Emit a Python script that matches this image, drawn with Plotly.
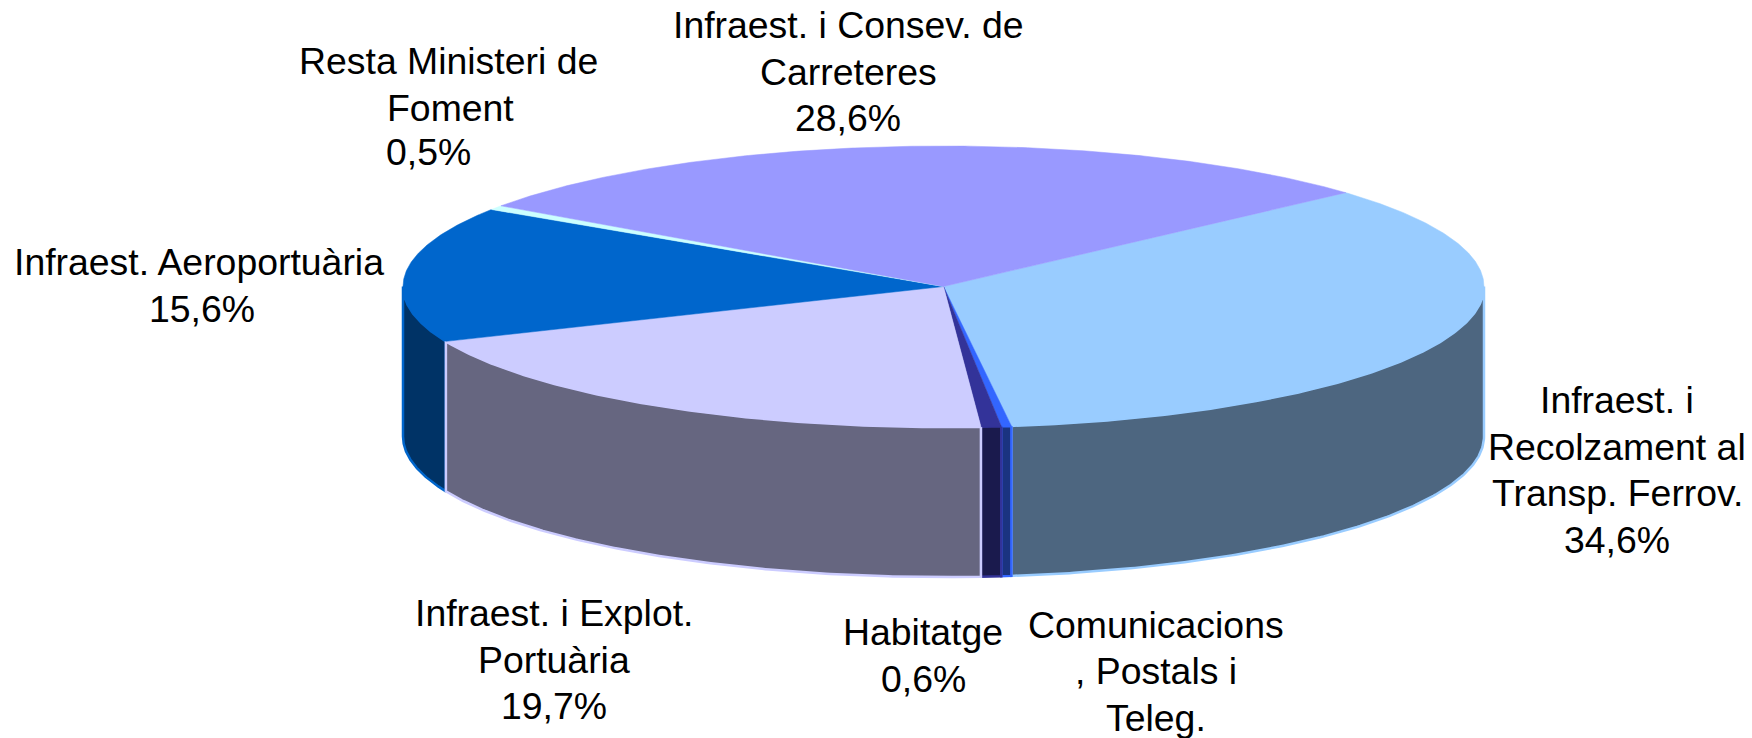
import numpy as np
import plotly.graph_objects as go

# Slices clockwise from the top-right boundary
categories = ["Infraest. i Recolzament al Transp. Ferrov.", "Comunicacions, Postals i Teleg.", "Habitatge",
              "Infraest. i Explot. Portuària", "Infraest. Aeroportuària", "Resta Ministeri de Foment",
              "Infraest. i Consev. de Carreteres"]
values = [34.6, 0.3, 0.6, 19.7, 15.6, 0.5, 28.6]
top_colors = ["#99ccff", "#3366ff", "#333399", "#ccccff", "#0066cc", "#ccffff", "#9999ff"]
wall_colors = ["#4d6680", "#1a3380", "#1a1a4d", "#666680", "#003366", "#668080", "#4d4d80"]
wall_order = [4, 0, 1, 2, 3, 5, 6]

label_lines = [
    ["Infraest. i", "Recolzament al", "Transp. Ferrov.", "34,6%"],
    ["Comunicacions", ", Postals i", "Teleg."],
    ["Habitatge", "0,6%"],
    ["Infraest. i Explot.", "Portuària", "19,7%"],
    ["Infraest. Aeroportuària", "15,6%"],
    ["Resta Ministeri de", "Foment", "0,5%"],
    ["Infraest. i Consev. de", "Carreteres", "28,6%"],
]
label_x = [1617, 1156, 923, 554, 199, 448, 848]
label_y = [400, 625, 632, 613, 262, 61, 25]
line_dx = [[0, 0, 0, 0], [0, 0, 0], [0, 0], [0, 0, 0], [0, 3], [0, 2, -20], [0, 0, 0]]
line_dy = [[0, 0, 0, 0], [0, -1, 0], [0, 0], [0, 0, 0], [0, 0], [0, 0, -2], [0, 0, 0]]

W, H = 1752, 738
CX, CY, RX, RY, DEPTH = 943.5, 286.5, 540.5, 140.5, 150
START_DEG = 41.9
LINE_H = 46.6
FONT_SIZE = 37.4


def ell(deg, dy=0.0):
    a = np.radians(deg)
    return CX + RX * np.cos(a), CY - RY * np.sin(a) + dy


fig = go.Figure()
shares = np.array(values) / sum(values) * 360
ends = START_DEG - np.cumsum(shares)
starts = ends + shares

# Side walls: only the front half of the rim is visible
for i in wall_order:
    s, e, tc, wc = starts[i], ends[i], top_colors[i], wall_colors[i]
    lo, hi = max(e, -180), min(s, 0)
    if hi <= lo:
        continue
    t = np.linspace(hi, lo, 160)
    x1, y1 = ell(t)
    x2, y2 = ell(t[::-1], DEPTH)
    fig.add_trace(go.Scatter(x=np.r_[x1, x2, x1[0]], y=np.r_[y1, y2, y1[0]], mode="lines",
                             fill="toself", fillcolor=wc, line=dict(color=tc, width=2.5),
                             hoverinfo="skip", showlegend=False))

# Top faces
for s, e, tc in zip(starts, ends, top_colors):
    t = np.linspace(s, e, max(int(s - e) * 3, 8))
    x, y = ell(t)
    fig.add_trace(go.Scatter(x=np.r_[CX, x, CX], y=np.r_[CY, y, CY], mode="lines",
                             fill="toself", fillcolor=tc, line=dict(color=tc, width=0.5),
                             hoverinfo="skip", showlegend=False))

for lines, lx, ly, dxs, dys in zip(label_lines, label_x, label_y, line_dx, line_dy):
    for i, txt in enumerate(lines):
        fig.add_annotation(x=lx + dxs[i], y=ly + i * LINE_H + dys[i], text=txt, showarrow=False,
                           xanchor="center", yanchor="middle",
                           font=dict(family="Liberation Sans, Arial, sans-serif", size=FONT_SIZE, color="#000000"))

fig.update_layout(width=W, height=H, margin=dict(l=0, r=0, t=0, b=0), paper_bgcolor="white", plot_bgcolor="white",
                  xaxis=dict(range=[0, W], visible=False, fixedrange=True),
                  yaxis=dict(range=[H, 0], visible=False, fixedrange=True), showlegend=False)
fig.write_html("out.html", config={"displayModeBar": False},
               post_script="document.body.style.margin='0';document.documentElement.style.overflow='hidden';")
